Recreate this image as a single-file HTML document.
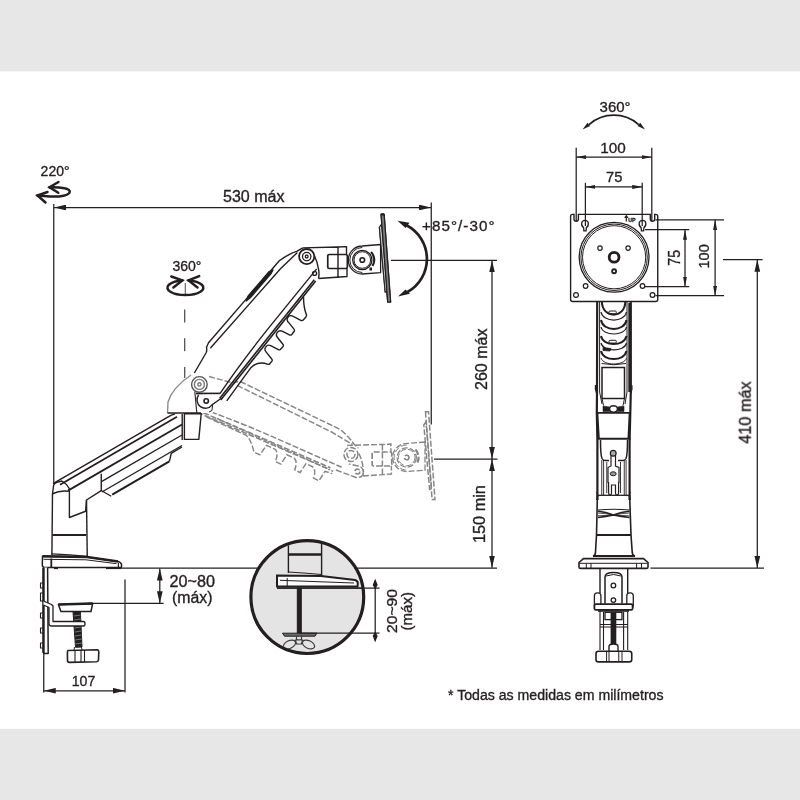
<!DOCTYPE html>
<html><head><meta charset="utf-8">
<style>
html,body{margin:0;padding:0;background:#fff;}
svg{display:block;}
text{font-family:"Liberation Sans",sans-serif;fill:#231f20;stroke:#231f20;stroke-width:0.35px;}
</style></head>
<body>
<svg width="800" height="800" viewBox="0 0 800 800">
<defs>
<marker id="ar" viewBox="0 0 12 5.7" refX="12" refY="2.85" markerWidth="12" markerHeight="5.7" markerUnits="userSpaceOnUse" orient="auto-start-reverse"><path d="M0,0L12,2.85L0,5.7z" fill="#231f20"/></marker>
<marker id="ars" viewBox="0 0 10 4" refX="10" refY="2" markerWidth="10" markerHeight="4" markerUnits="userSpaceOnUse" orient="auto-start-reverse"><path d="M0,0L10,2L0,4z" fill="#231f20"/></marker>
<!-- upper arm in local coords: u along arm from elbow joint, v to the right/lower side -->
<g id="uarm">
 <path d="M5.5,-11.2 L28.8,-15.3 Q31,-16 33,-18.5 L37.7,-19.8 L146,-18.5 Q157,-16 165,-11 L171,-9"/>
 <path d="M34.7,-15 L140,-12.5 Q155,-11 164,-10"/>
 <path d="M-9.2,3.3 L6.8,21.6 Q40,18 85,16.7 L163.9,15.3"/>
 <path d="M-8.3,22.1 L1,24.5 L59.3,22.8 L154,20.5" stroke-width="1.6"/>
 <path d="M1.7,26.4 L56.9,24.9 L154,22.3" stroke-width="1.6"/>
</g>
<g id="uteeth">
 <path d="M5,31.5 L46,28.6 Q56,29.5 59.5,39.5 Q60,40.5 61.5,40.5 L64.5,40.5 Q65.8,40.3 66,39 L67.8,30 A4,4 0 0 1 75.6,29.5 L77.6,38.5 Q78,39.5 79.5,39.5 L83,39.5 Q84.3,39.3 84.5,38 L86.2,29.5 A4,4 0 0 1 94,29 L96,37.5 Q96.5,38.5 98,38.5 L101.7,38.3 Q103,38 103.2,36.8 L104.8,28.6 A3.8,3.8 0 0 1 112.4,28 L114.5,36.8 Q115,38 116.5,38 L120.5,38 Q122,37.8 122.5,36.5 Q126,30 134,23.3"/>
</g>
<g id="gteeth">
 <path d="M20,26.5 L64,26.5 Q70,28 78,38.5 L84.5,38.5 L86.5,27 L96,27 Q100.5,28 101.5,38 L107.5,38 L109,27 L117,27 Q121.5,28 122.5,37.5 L128.5,37.5 L130,27 L137,27 Q142,28 143,37 L149,37 L150.5,26 L158,25"/>
 <path d="M30,23.5 L158,22.5" stroke-dasharray="2,1.5"/>
</g>
<g id="head">
 <path d="M302.7,247.9 L338,247 L346.5,246.6 V254.5 M338,247 V277.2 M318.5,278.5 L347,276.5 V268.3 M314.5,256 Q317.5,262 318.5,269 Q319.5,274 318.5,278.5"/>
 <rect x="327.75" y="254.5" width="19.6" height="14" rx="1.5" stroke-width="1.7"/>
 <path d="M380.6,244.5 L362.3,246 A14,14 0 0 0 362.3,274 L380.6,272.7 Z" fill="#fff" stroke-width="1.3"/>
 <path d="M362.3,247.5 A12.5,12.5 0 0 0 362.3,272.5" stroke-width="1"/>
 <circle cx="362.3" cy="260" r="9.6" stroke-width="1.3"/>
 <circle cx="362.3" cy="260" r="8.3" stroke-width="1"/>
 <circle cx="362.3" cy="260" r="2.3" stroke-width="1.6"/>
 <path d="M371,252 A11.5,11.5 0 0 1 372.5,266" stroke-width="2.2"/>
 <polygon points="381.1,214.3 384.1,214.3 390.6,302 387.7,302"/>
 <polygon points="379.4,227.5 381.6,224.3 387.2,291.6 385.2,292"/>
</g>
</defs>
<rect x="0" y="0" width="800" height="71.4" fill="#e7e7e7"/>
<rect x="0" y="728.8" width="800" height="71.2" fill="#e7e7e7"/>

<!-- ghost arm -->
<g stroke="#858585" stroke-width="1.45" fill="none" stroke-dasharray="6,2">
 <use href="#uarm" transform="translate(199.4,384.4) rotate(24.9)"/>
 <use href="#gteeth" transform="translate(199.4,384.4) rotate(24.9)"/>
 <use href="#head" transform="translate(44.4,197.5)"/>
 <circle cx="350.9" cy="454.4" r="7"/>
 <circle cx="350.9" cy="454.4" r="4"/>
 <circle cx="357.4" cy="471.5" r="2.5"/>
 <path d="M336,470 L356,477.5 Q363,478 363.5,472 Q363,466 356,465.5 L349,464"/>
</g>

<!-- solid arm -->
<g stroke="#231f20" stroke-width="1.4" fill="none" stroke-linejoin="round">
 <path d="M167.5,413 L168,402 Q172,388 191,375 L200,374 L207,390 L213,404 L213,413 Z" fill="#fff" stroke="none"/>
 <use href="#uarm" transform="translate(199.4,384.4) rotate(-49.9)"/>
 <use href="#uteeth" transform="translate(199.4,384.4) rotate(-49.9)"/>
 <use href="#head"/>
 <rect x="369.5" y="267.5" width="2.5" height="3" fill="#231f20" stroke="none"/>
 <polygon points="379.4,227.5 381.6,224.3 387.2,291.6 385.2,292" fill="#c8c8c8" stroke-width="1"/>
 <polygon points="381.1,214.3 384.1,214.3 390.6,302 387.7,302" fill="#7d7d7d" stroke-width="1.2"/>
 <path d="M381.3,214.5 H384" stroke-width="2.2"/>
 <!-- slot -->
 <g transform="translate(199.4,384.4) rotate(-49.9)"><path d="M94,-18 L99,-19.6 L131,-19.3 L135,-17.5 L131,-16.6 L99,-16.9 Z" fill="#231f20"/></g>
 <!-- joints -->
 <circle cx="306.7" cy="256.6" r="7.6" fill="#fff" stroke-width="1.8"/>
 <circle cx="306.7" cy="256.6" r="4.2" stroke-width="1.3"/>
 <circle cx="306.7" cy="256.6" r="1.4" stroke-width="1.3"/>
 <circle cx="314.6" cy="273.4" r="2"/>
 <!-- elbow housing (faint) -->
 <path d="M167.5,413 L168,402 Q172,388 191,375" stroke="#8c8c8c"/>
 <path d="M167.5,413 L201,413"/>
 <circle cx="199.4" cy="384.4" r="7.8" fill="#fff" stroke="#555"/>
 <circle cx="199.4" cy="384.4" r="5" stroke="#777"/>
 <circle cx="199.4" cy="384.4" r="1.6" stroke="#777"/>
 <path d="M196,393.5 L220,393.5"/>
 <path d="M198.6,395 A7.3,7.3 0 0 0 212,404.8 L221,398.5" fill="#fff"/>
 <circle cx="206.2" cy="401" r="2.2" stroke-width="1.6"/>
 <path d="M194.8,391.5 L196.8,413" stroke-width="1.1"/>
 <path d="M212.5,405 L212,410.5 L209,412" stroke-width="1"/>
 <!-- elbow block -->
 <path d="M184.4,413.75 L201.2,413.75 L198.8,439.4 L184.4,439.4 Z" fill="#fff"/>
 <path d="M182.2,414 L182.2,440"/>
 <!-- lower arm -->
 <path d="M53,483.6 L169,416.4 Q172,414.5 175,414"/>
 <path d="M60,484.7 L177,416.8" stroke-width="1.8"/>
 <path d="M68,490.6 L182,424.5" stroke-width="1.8"/>
 <path d="M101.9,481.4 L182,435"/>
 <path d="M101.9,492 L182,445.5"/>
 <path d="M112.2,494.6 L169.4,461.4" stroke-width="2"/>
 <path d="M101.25,473.8 V490.5 L111.25,496.25"/>
 <path d="M169.4,461.4 L171.25,453.4 L182,447"/>
 <!-- arm end cap -->
 <path d="M53.5,486 Q54,483 58,482 L62,481" />
 <path d="M52.5,493.75 Q60,490 68.75,491.25"/>
 <path d="M62,481 Q67,484 69.4,488.75 L69.4,517.5 L85.6,511.25 L86.5,500 L101.25,490.6"/>
 <!-- pole -->
 <path d="M53.5,486 L52.5,493.75 L51.9,555"/>
 <path d="M86.5,500 L87.25,556.25"/>
 <path d="M52.5,535 H86" stroke-width="2.2"/>
 <!-- base plate -->
 <path d="M51.9,553.8 Q70,554.5 87.7,556.3" stroke-width="1.2"/>
 <path d="M42.5,556.3 L87,557 L118,561.5 Q121.6,562.5 121.6,565 L121.3,567.5 L44.5,567.5 Q42.5,567.5 42.3,565 Z" fill="#fff" stroke-width="1.5"/>
 <path d="M42.5,556.3 L87,557 L118,561.5" stroke-width="2.4"/>
 <path d="M43.5,559.3 L86,559.8 L116.5,563.7" stroke-width="1"/>
 <path d="M51.3,558.5 V567.5" stroke-width="1.8"/>
 <path d="M118.4,563 V567.5" stroke-width="1.2"/>
 <path d="M106,568.3 H121" stroke-width="1.6"/>
 <path d="M54,568.3 H58" stroke-width="1.6"/>
 <!-- clamp -->
 <path d="M43.75,567.5 V653.5 L48.2,653.5 L47.6,567.5" fill="#fff" stroke-width="1.5"/>
 <path d="M43.3,568 V653" stroke-width="2.2"/>
 <path d="M40.5,583 h3 v5 h-3z M40.5,593 h3 v8 h-3z M40.5,613 h3 v5 h-3z M40.5,628 h3 v5 h-3z M40.5,643 h3 v5 h-3z" stroke-width="1.1"/>
 <path d="M58.4,604.5 L92.6,603.5 L91,611.5 L60.9,611.5 Z" fill="#fff" stroke-width="1.5"/>
 <path d="M58.4,604.5 L92.6,603.5" stroke-width="2.4"/>
 <path d="M73,611.5 L80.4,611.5 L82,647 L75.5,647.3 Z" fill="#231f20" stroke-width="1"/>
 <path d="M74,616 L80.5,615 M74.2,620 L80.7,619 M74.4,624 L80.9,623 M74.6,628 L81.1,627 M74.8,632 L81.3,631 M75,636 L81.5,635 M75.2,640 L81.7,639 M75.4,644 L81.8,643" stroke="#9a9a9a" stroke-width="0.7"/>
 <path d="M74.5,647 Q73.5,650 75,651 M81.5,647 Q82.5,650 81,651" stroke-width="1"/>
 <path d="M43.5,601 L51.5,604.5 L53,606 L53,621.5 L83.6,621.5 Q85,621.5 85,623.7 Q85,626 83.6,626 L51.5,626 Q49,626 49,623.5 L49,607.5 L43.5,605" fill="#fff" stroke-width="1.3"/>
 <path d="M68,650.5 L97.5,649.8 Q98.8,650 98.8,652 L98.5,660 Q98.3,661.7 96.5,661.8 L69.5,662.4 Q67.5,662.4 67.5,660.5 L67.4,652.5 Q67.4,650.6 68,650.5 Z" fill="#fff" stroke-width="1.6"/>
 <path d="M75,650.3 V662.2 M81,650.2 V662 M84.5,650.1 V661.9" stroke-width="1.1"/>
</g>

<!-- rotation icons -->
<g stroke="#231f20" stroke-width="2.5" fill="none" stroke-linecap="round">
 <path d="M182.3,280.4 A18,7.4 0 1 0 188.5,280.4"/>
 <path d="M171.3,276.5 L182.3,280.4 L173.4,287.5 M199.2,276.1 L188.5,280.4 L197.5,287.5"/>
 <path d="M49.5,187.25 C62,187 70,188.5 69.75,191.75 C69.5,195.5 60,197 50,196.5 L37.5,195.5" stroke-width="2.5"/>
 <path d="M58.5,182 L49.5,187.25 L58.25,192.75 M47.5,192 L37.5,195.5 L45.5,202.5" stroke-width="2.5"/>
</g>
<line x1="185.25" y1="283" x2="185.25" y2="295" stroke="#231f20" stroke-width="0.8"/>
<line x1="184.75" y1="309.5" x2="184.75" y2="378" stroke="#231f20" stroke-width="1" stroke-dasharray="13,15.7"/>
<!-- tilt arc -->
<path d="M406.5,225.3 A37.9,37.9 0 0 1 407.5,292" stroke="#231f20" stroke-width="2.7" fill="none"/>
<path d="M397.5,220.8 L409.5,222.8 L405.5,228 Z M398,296.5 L405.5,289.5 L410,293.8 Z" fill="#231f20"/>

<!-- circle detail -->
<clipPath id="cc"><circle cx="307.3" cy="597.1" r="55"/></clipPath>
<g stroke="#231f20" fill="none">
 <circle cx="307.3" cy="597.1" r="56.4" fill="#e4e4e4" stroke="none"/>
 <g clip-path="url(#cc)">
 <path d="M288.4,530 V573 M321.6,530 V576" stroke-width="1.4"/>
 <path d="M288.4,554.5 H321.6" stroke-width="2.4"/>
 <path d="M288.4,572 Q305,573 321.6,574.5" stroke-width="1"/>
 <path d="M277,575.5 L321,576 L355,580 Q358,581 357.8,583.5 L357.5,586.6 L277,586.6 Z" fill="#fbfbfb" stroke-width="2"/>
 <path d="M287.2,578 V586.6 M280,580.3 L354,583" stroke-width="1"/>
 <path d="M277,588.1 H370" stroke-width="1.2"/>
 <path d="M297.3,588 H301.3 V633.4 H297.3 Z" fill="#231f20"/>
 <path d="M282.5,633.2 L316.9,633.2 L315,636.2 L284.5,636.2 Z" fill="#6a6a6a" stroke-width="1"/>
 <path d="M296.5,636.2 V640 H301.5 V636.2" stroke="#3a3a3a" stroke-width="1.2"/>
 <ellipse cx="289.5" cy="644.5" rx="6.5" ry="3.8" transform="rotate(-25 289.5 644.5)" stroke="#3a3a3a" stroke-width="1.2" fill="#e4e4e4"/>
 <ellipse cx="308.5" cy="644.5" rx="6.5" ry="3.8" transform="rotate(25 308.5 644.5)" stroke="#3a3a3a" stroke-width="1.2" fill="#e4e4e4"/>
 <path d="M295.5,640 H302.5 L301.5,644 H296.5 Z" stroke="#3a3a3a" stroke-width="1.2" fill="#e4e4e4"/>
 </g>
 <circle cx="307.3" cy="597.1" r="56.4" stroke-width="3.2"/>
</g>
<!-- right view: rotation arc -->
<path d="M589,124.6 A37.5,37.5 0 0 1 638.7,124.6" stroke="#231f20" stroke-width="1.8" fill="none"/>
<path d="M582.6,129.4 L590.1,125.95 L587.5,122.85 Z M645.1,129.4 L637.6,125.95 L640.2,122.85 Z" fill="#231f20"/>
<!-- right view: VESA plate -->
<g stroke="#231f20" fill="none" stroke-width="1.2">
 <path d="M572.6,214.4 H574 V219 A2.2,2.2 0 0 0 578.4,219 V214.4 H650.3 V219 A2.2,2.2 0 0 0 654.7,219 V214.4 H655.75 Q657.75,214.4 657.75,216.4 V299.5 Q657.75,301.5 655.75,301.5 H572.6 Q570.6,301.5 570.6,299.5 V216.4 Q570.6,214.4 572.6,214.4 Z" fill="#fff" stroke-width="1.4"/>
 <path d="M585,220.3 C580.8,220.3 580.8,225.8 583.6,227.6 L583.9,230.8 H586.1 L586.4,227.6 C589.2,225.8 589.2,220.3 585,220.3 Z" stroke-width="1.3"/>
 <path d="M642.5,220.3 C638.3,220.3 638.3,225.8 641.1,227.6 L641.4,230.8 H643.6 L643.9,227.6 C646.7,225.8 646.7,220.3 642.5,220.3 Z" stroke-width="1.3"/>
 <circle cx="614.1" cy="257.25" r="34.9" stroke-width="1.3"/>
 <circle cx="614.1" cy="257.25" r="33.2" stroke-width="1"/>
 <circle cx="614.1" cy="257.25" r="31.6" stroke-width="1"/>
 <circle cx="614.1" cy="257.25" r="4.9" stroke-width="2.8"/>
 
 <circle cx="600" cy="248.1" r="2.2"/>
 <circle cx="628.1" cy="248.1" r="2.2"/>
 <circle cx="614.1" cy="271.25" r="2" stroke-width="1.8"/>
 <circle cx="585.6" cy="286" r="2.3"/>
 <circle cx="642.5" cy="286" r="2.3"/>
 <circle cx="576" cy="295" r="2.4"/>
 <circle cx="652.5" cy="295" r="2.4"/>
 <path d="M626.3,216 V221.5 M624.7,217.8 L626.3,215.8 L627.9,217.8" stroke-width="1.2"/>
</g>
<text x="628.3" y="221.6" font-size="5.8" font-weight="bold" textLength="7.3" lengthAdjust="spacingAndGlyphs" opacity="0.995">UP</text>
<!-- right view: arm front -->
<g stroke="#231f20" fill="none" stroke-width="1.2">
 <path d="M597.2,301.5 L597,392 L596.8,413 L597.4,440 L597.4,500 M630.8,301.5 L630.8,392 L630.3,413 L629.6,440 L629.6,500" stroke-width="2.2"/>
 <path d="M599.6,301.5 V392 M627,301.5 V392" stroke-width="1"/>
 <path d="M629.3,303 V392" stroke-width="2"/>
 <path d="M601.9,301.5 C602,319 625.2,319 625.3,301.5" stroke-width="2"/>
 <rect x="609" y="311" width="7.3" height="2.8" rx="1" stroke-width="1"/>
 <path d="M601,312 C603,322.7 624.5,322.7 626.5,312" stroke-width="1.2"/>
 <path d="M601,320 C603,332 624.5,332 626.5,320" stroke-width="2"/>
 <path d="M601,327 C603,336.3 624.5,336.3 626.5,327" stroke-width="1.1"/>
 <path d="M601,336 C603,346.7 624.5,346.7 626.5,336" stroke-width="2"/>
 <rect x="609" y="340.3" width="7.3" height="2.8" rx="1" stroke-width="1"/>
 <path d="M601,343 C603,352.3 624.5,352.3 626.5,343" stroke-width="1.2"/>
 <path d="M603,347.5 L611,348.5 L610,351 L603,350.5 Z" fill="#231f20" stroke-width="0.8"/>
 <path d="M601,351 C603,361.7 624.5,361.7 626.5,351" stroke-width="2"/>
 <path d="M601,358 C603,366 624.5,366 626.5,358" stroke-width="1"/>
 <rect x="602" y="367.5" width="22.5" height="31" stroke-width="1.5"/>
 <path d="M601.5,363.5 Q613.5,366 626,363.5" stroke-width="1"/>
 <path d="M602,398.5 L603.5,405.5 M624.5,398.5 L623,405.5 M599.6,392 L602,404 M627,392 L625,404" stroke-width="1"/>
 <path d="M603,406 L609.5,407 L609.5,411.5 L603,411.5 Z M624,406 L617.5,407 L617.5,411.5 L624,411.5 Z" fill="#231f20" stroke-width="0.6"/>
 <ellipse cx="613.5" cy="409" rx="4" ry="3.2" fill="#fff" stroke-width="1.6"/>
 <path d="M597,412.8 H630.5" stroke-width="1.8"/>
 <path d="M597.5,413 L599,438.5 M629.5,413 L628.3,438.5" stroke-width="1.6"/>
 <path d="M597,438.8 H630.5" stroke-width="2"/>
 <path d="M595.5,385 Q594.8,389 596.5,393 M631.8,385 Q632.5,389 631,393" stroke-width="1.3"/>
 <path d="M600.5,440 Q600.5,455 602,458.5 Q603,460.5 605,460.5 H609 M627.5,440 Q627.5,455 626,458.5 Q625,460.5 623,460.5 H618" stroke-width="1.5"/>
 <path d="M601.75,460 V495 M603.6,460 V495 M624.25,460 V495 M626.1,460 V495 M606.75,462 V493 M620.5,462 V493" stroke-width="0.9"/>
 <path d="M611,455.5 V466 L608,467.5 V482.5 H608.6 V493 Q608.6,495 610,495 Q611.5,495 611.5,493 V485 H615.5 V493 Q615.5,495 617,495 Q618.6,495 618.6,493 V482.5 H619 V467.5 L615.5,466 V455.5" stroke-width="1.2" fill="#fff"/>
 <circle cx="613.2" cy="453.3" r="2.9" fill="#aaa" stroke-width="1.2"/>
 <ellipse cx="613.2" cy="473.75" rx="3" ry="2" fill="#999" stroke-width="1"/>
 <path d="M598,495.3 H629.5" stroke-width="1.3"/>
 <path d="M596.5,492 Q599.5,496 596.5,500 M630.5,492 Q627.5,496 630.5,500" stroke-width="1"/>
 <path d="M598,510 Q613.5,508.5 629.5,510" stroke-width="1.2"/>
 <path d="M598,511.25 Q606,512 613.5,515 Q621,512 629.5,511.25 M598,517.5 Q606,516.5 613.5,515 Q621,516.5 629.5,517.5" stroke-width="1.4"/>
 <path d="M598,513 Q606,513.5 613.5,515 Q621,513.5 629.5,513 M598,515.8 Q606,515.5 613.5,515 Q621,515.5 629.5,515.8" stroke-width="0.8"/>
 <path d="M597.4,495 L596.5,535 L595.5,552 Q595.5,555.5 593,556.5 M629.6,495 L631,535 L632.2,552 Q632.2,555.5 635,556.5" stroke-width="1.6"/>
 <path d="M597,535 H631" stroke-width="2.2"/>
 <path d="M593,556 H635" stroke-width="1.8"/>
 <path d="M583.5,558.6 H643.5 L648,562.5 V567 Q648,568.4 646.5,568.4 H580.5 Q579,568.4 579,567 V562.5 Z" fill="#fff" stroke-width="1.6"/>
 <path d="M579.5,563.3 H647.5" stroke-width="1"/>
 <path d="M586.3,563.3 V568.4 M591,563.3 V568.4 M636.6,563.3 V568.4 M641.5,563.3 V568.4" stroke-width="1"/>
 <!-- clamp front -->
 <path d="M600,568.4 V593 M627.7,568.4 V593" stroke-width="1.4"/>
 <path d="M605,603.4 V577 Q605,572.5 613.5,572.5 Q622,572.5 622,577 V603.4" fill="#fff" stroke-width="1.5"/>
 <path d="M606,576 Q613.5,573 621,576" stroke-width="1"/>
 <circle cx="613.4" cy="585.5" r="2.3" stroke-width="1.3"/>
 <circle cx="613.4" cy="600.1" r="2.3" stroke-width="1.3"/>
 <rect x="594.4" y="592.8" width="6.5" height="15.5" rx="3" fill="#fff" stroke-width="1.3"/>
 <rect x="626.8" y="592.8" width="6.5" height="15.5" rx="3" fill="#fff" stroke-width="1.3"/>
 <rect x="594.4" y="604.2" width="38.2" height="5.7" rx="1.5" fill="#fff" stroke-width="1.8"/>
 <path d="M598,611 H629" stroke-width="1.6"/>
 <path d="M600,610 V650 M603.5,612 V650 M623.6,612 V650 M627.7,610 V650" stroke-width="1.1"/>
 <path d="M600,624.5 H627.7 M600,627 H627.7" stroke-width="1"/>
 <rect x="605" y="612.3" width="17" height="7.3" fill="#fff" stroke-width="1.3"/>
 <rect x="610.6" y="612.5" width="5.7" height="35" fill="#231f20" stroke="none"/>
 <path d="M609,651 V646.5 Q609,644 613.5,644 Q618,644 618,646.5 V651" fill="#fff" stroke-width="1.4"/>
 <rect x="596" y="651.3" width="35.75" height="10.6" rx="2.5" fill="#fff" stroke-width="1.6"/>
 <path d="M606.6,651.3 V661.9 M609,651.3 V661.9 M618.75,651.3 V661.9 M622,651.3 V661.9" stroke-width="1"/>
</g>
<!--END_RIGHT-->
<g id="dims" stroke="#231f20" stroke-width="1.25" fill="none">
 <line x1="53.75" y1="204" x2="53.75" y2="484"/>
 <line x1="54" y1="207.5" x2="431" y2="207.5" marker-start="url(#ar)" marker-end="url(#ar)"/>
 <line x1="431.25" y1="202.5" x2="431.25" y2="424.5"/>
 <line x1="391" y1="260.4" x2="497" y2="260.4"/>
 <line x1="434" y1="459" x2="497.5" y2="459"/>
 <line x1="492" y1="260.4" x2="492" y2="459" marker-start="url(#ar)" marker-end="url(#ar)"/>
 <line x1="492" y1="459" x2="492" y2="567.8" marker-start="url(#ar)" marker-end="url(#ar)"/>
 <line x1="121" y1="568" x2="260" y2="568"/>
 <line x1="354" y1="568" x2="497" y2="568"/>
 <line x1="159.8" y1="568.5" x2="159.8" y2="603.3" marker-start="url(#ar)" marker-end="url(#ar)"/>
 <line x1="88.75" y1="603.3" x2="163.6" y2="603.3"/>
 <line x1="125" y1="579.4" x2="125" y2="692.5"/>
 <line x1="43.75" y1="653.75" x2="43.75" y2="692.5"/>
 <line x1="43.75" y1="690.75" x2="125" y2="690.75" marker-start="url(#ar)" marker-end="url(#ar)"/>
 <line x1="576.2" y1="147.75" x2="576.2" y2="221"/>
 <line x1="651.8" y1="147.75" x2="651.8" y2="221"/>
 <line x1="576.2" y1="157.1" x2="651.8" y2="157.1" marker-start="url(#ars)" marker-end="url(#ars)"/>
 <line x1="585.4" y1="182.8" x2="585.4" y2="226"/>
 <line x1="642.2" y1="182.8" x2="642.2" y2="226"/>
 <line x1="585.4" y1="186.9" x2="642.2" y2="186.9" marker-start="url(#ars)" marker-end="url(#ars)"/>
 <line x1="655.4" y1="219.9" x2="724.1" y2="219.9"/>
 <line x1="645" y1="229.7" x2="689.25" y2="229.7"/>
 <line x1="645" y1="286.5" x2="689.25" y2="286.5"/>
 <line x1="655.4" y1="295.7" x2="724.1" y2="295.7"/>
 <line x1="685" y1="229.7" x2="685" y2="286.5" marker-start="url(#ars)" marker-end="url(#ars)"/>
 <line x1="715.1" y1="219.9" x2="715.1" y2="295.7" marker-start="url(#ars)" marker-end="url(#ars)"/>
 <line x1="723" y1="259.7" x2="762.6" y2="259.7"/>
 <line x1="757.3" y1="259.7" x2="757.3" y2="568" marker-start="url(#ar)" marker-end="url(#ar)"/>
 <line x1="650.5" y1="568" x2="764" y2="568"/>
 <!-- 20~90 -->
 <line x1="277" y1="588" x2="379.5" y2="588"/>
 <line x1="300" y1="633" x2="379.5" y2="633"/>
 <line x1="375.2" y1="580.5" x2="375.2" y2="640.5"/>
 <path d="M375.2,580.5 L377,585 L375.2,588 L373.4,585 Z M375.2,640.5 L377,636 L375.2,633 L373.4,636 Z" fill="#231f20"/>
</g>

<g id="texts" opacity="0.995">
 <text x="40.6" y="176" font-size="14" textLength="29" lengthAdjust="spacingAndGlyphs">220°</text>
 <text x="223" y="202.2" font-size="16" textLength="61.5" lengthAdjust="spacingAndGlyphs">530 máx</text>
 <text x="422" y="231" font-size="15.2" textLength="72.5" lengthAdjust="spacing">+85°/-30°</text>
 <text x="172.4" y="271.3" font-size="14.4" textLength="29" lengthAdjust="spacingAndGlyphs">360°</text>
 <text x="71.7" y="685.65" font-size="15.4" textLength="23.6" lengthAdjust="spacingAndGlyphs">107</text>
 <text x="448" y="699.5" font-size="14" textLength="215.5" lengthAdjust="spacingAndGlyphs">* Todas as medidas em milímetros</text>
 <text x="169.6" y="586.9" font-size="16" textLength="45.4" lengthAdjust="spacingAndGlyphs">20~80</text>
 <text x="172.1" y="602.5" font-size="16" textLength="40.4" lengthAdjust="spacingAndGlyphs">(máx)</text>
 <text x="599.6" y="112.3" font-size="14.4" textLength="31" lengthAdjust="spacingAndGlyphs">360°</text>
 <text x="600.25" y="153" font-size="15" textLength="25.5" lengthAdjust="spacingAndGlyphs">100</text>
 <text x="606" y="182.4" font-size="15" textLength="16.3" lengthAdjust="spacingAndGlyphs">75</text>
 <text transform="translate(680.25,265.7) rotate(-90)" font-size="16" textLength="15.7" lengthAdjust="spacingAndGlyphs">75</text>
 <text transform="translate(709,268.5) rotate(-90)" font-size="15" textLength="24.2" lengthAdjust="spacingAndGlyphs">100</text>
 <text transform="translate(486.5,390) rotate(-90)" font-size="16" textLength="61.5" lengthAdjust="spacingAndGlyphs">260 máx</text>
 <text transform="translate(485,543.1) rotate(-90)" font-size="16" textLength="58" lengthAdjust="spacingAndGlyphs">150 min</text>
 <text transform="translate(750.8,443.7) rotate(-90)" font-size="16" textLength="62.4" lengthAdjust="spacingAndGlyphs">410 máx</text>
 <text transform="translate(396.5,633) rotate(-90)" font-size="15" textLength="44" lengthAdjust="spacingAndGlyphs">20~90</text>
 <text transform="translate(412,630.5) rotate(-90)" font-size="15" textLength="38.5" lengthAdjust="spacingAndGlyphs">(máx)</text>
</g>
</svg>
</body></html>
